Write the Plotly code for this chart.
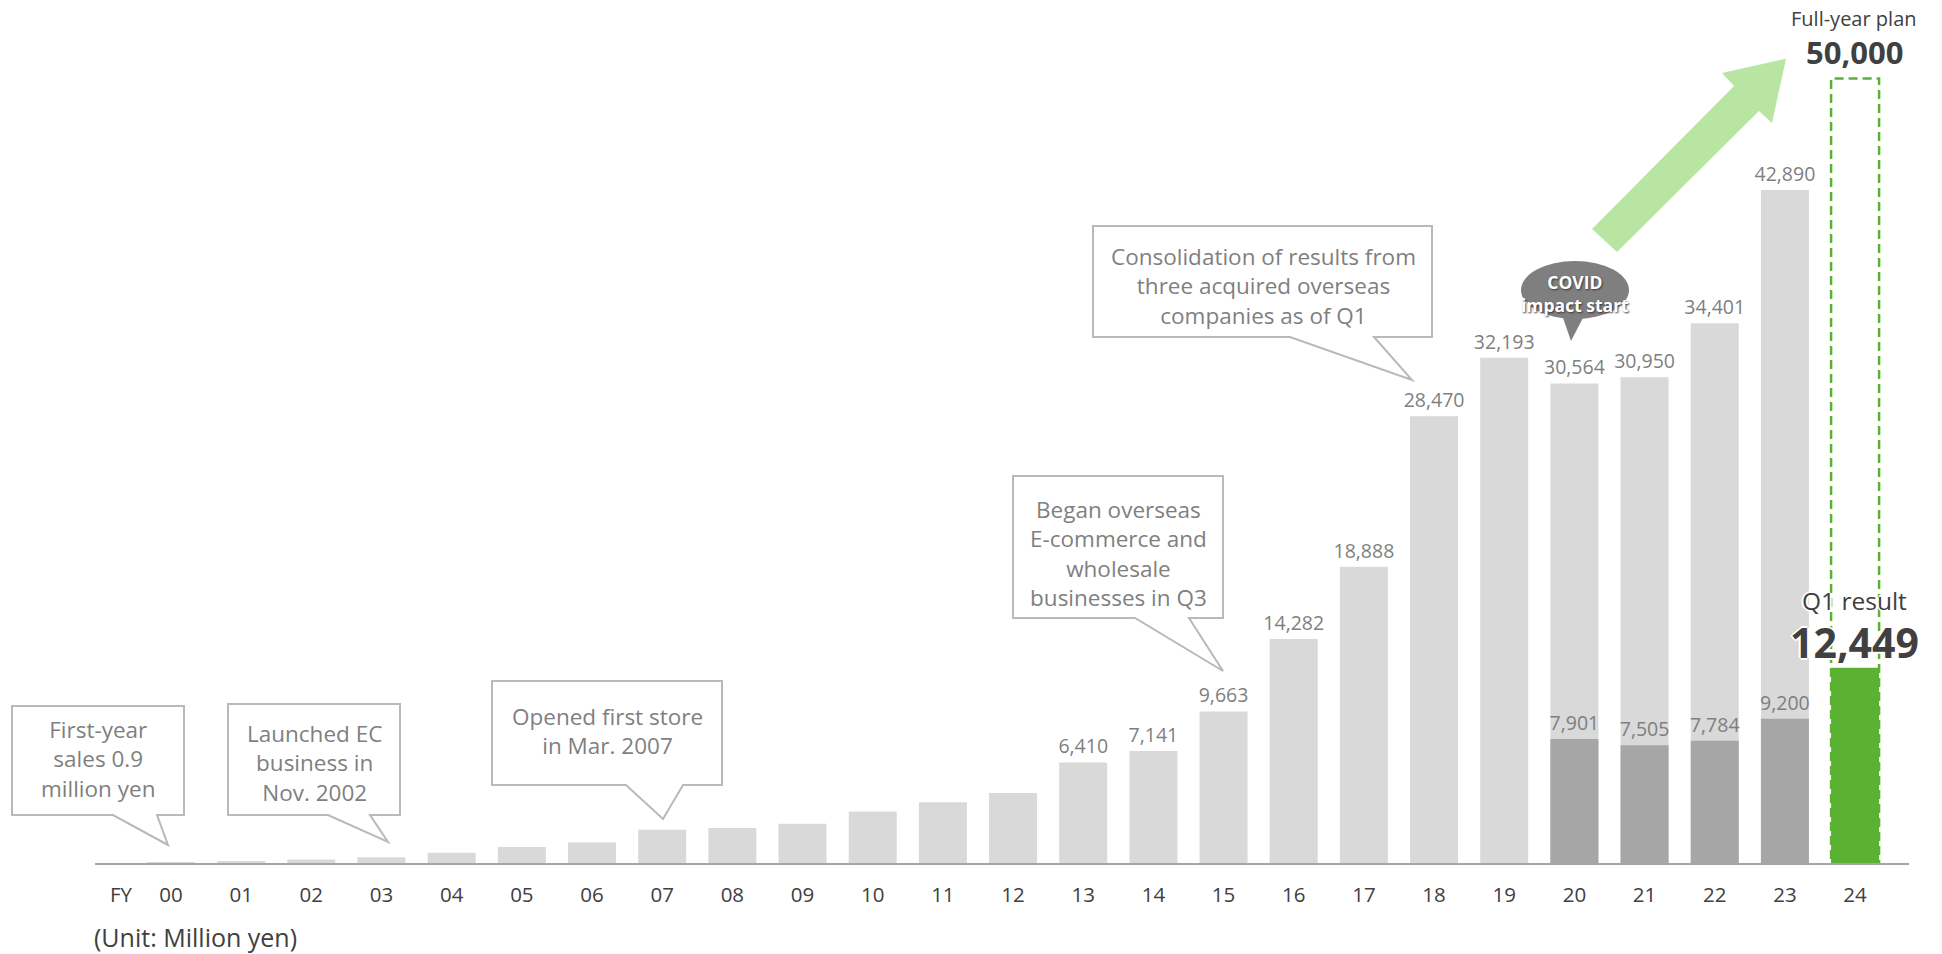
import plotly.graph_objects as go

# ---- data (million yen) ----
fiscal_years = ["00", "01", "02", "03", "04", "05", "06", "07", "08", "09", "10", "11",
                "12", "13", "14", "15", "16", "17", "18", "19", "20", "21", "22", "23"]
annual_sales = [0.9, 110, 220, 360, 660, 1020, 1300, 2120, 2230, 2500, 3290, 3870,
                4460, 6410, 7141, 9663, 14282, 18888, 28470, 32193, 30564, 30950, 34401, 42890]
labelled_from = "13"          # annual values are printed from FY13 onward

q1_years = ["20", "21", "22", "23"]
q1_sales = [7901, 7505, 7784, 9200]

current_year = "24"
current_q1 = 12449
current_plan = 50000

# ---- figure geometry (pixels) ----
W, H = 1942, 954
ML, MR, MT, MB = 95, 33, 20, 91
PW, PH = W - ML - MR, H - MT - MB
BASE = H - MB                      # pixel row of the zero line
STEP = 70.17                       # pixels between category centres
FIRST = 171                        # pixel centre of the first category
PX_PER_UNIT = 0.015691             # pixels per million yen
BAR_W = 48 / STEP

FONT = "Open Sans"
GREY_TXT = "#7f7f7f"
DARK_TXT = "#404040"
BOX_LINE = "#b9b9b9"

all_years = fiscal_years + [current_year]
xpos = {y: i for i, y in enumerate(all_years)}


def paper(px, py):
    return (px - ML) / PW, (BASE - py) / PH


def path(points, close=True):
    pts = [paper(x, y) for x, y in points]
    s = "M " + " L ".join(f"{x:.5f},{y:.5f}" for x, y in pts)
    return s + (" Z" if close else "")


fig = go.Figure()

label_font = dict(family=FONT, size=19.5, color=GREY_TXT)

# annual sales (light grey)
start = fiscal_years.index(labelled_from)
fig.add_trace(go.Bar(
    x=[xpos[y] for y in fiscal_years], y=annual_sales, width=BAR_W,
    marker=dict(color="#d9d9d9", line=dict(width=0)),
    text=["" if i < start else f"{v:,}" for i, v in enumerate(annual_sales)],
    textposition="outside", cliponaxis=False, constraintext="none",
    textfont=label_font, outsidetextfont=label_font,
    hoverinfo="x+y", showlegend=False,
))

# Q1 portion (darker grey)
fig.add_trace(go.Bar(
    x=[xpos[y] for y in q1_years], y=q1_sales, width=BAR_W,
    marker=dict(color="#a6a6a6", line=dict(width=0)),
    text=[f"{v:,}" for v in q1_sales],
    textposition="outside", cliponaxis=False, constraintext="none",
    textfont=label_font, outsidetextfont=label_font,
    showlegend=False,
))

# current-year Q1 result (green)
fig.add_trace(go.Bar(
    x=[xpos[current_year]], y=[current_q1], width=BAR_W,
    marker=dict(color="#5bb133", line=dict(width=0)),
    showlegend=False,
))

shapes = []

# full-year plan outline
cx = xpos[current_year]
shapes.append(dict(
    type="rect", xref="x", yref="y", layer="below",
    x0=cx - BAR_W / 2, x1=cx + BAR_W / 2, y0=0, y1=current_plan,
    line=dict(color="#5bb133", width=2.5, dash="9px,5px"),
    fillcolor="rgba(0,0,0,0)",
))

# growth arrow
arrow_pts = [(1592, 229), (1734, 86), (1722, 73), (1786, 58.7), (1772, 123),
             (1759, 111), (1617, 252)]
shapes.append(dict(type="path", xref="paper", yref="paper", path=path(arrow_pts),
                   fillcolor="#b8e6a2", line=dict(width=0)))


# speech-bubble callouts: (left, top, right, bottom, tail-left, tail-right, tip)
def callout(l, t, r, b, tl, tr, tip):
    pts = [(l, t), (r, t), (r, b), (tr, b), tip, (tl, b), (l, b)]
    shapes.append(dict(type="path", xref="paper", yref="paper", path=path(pts),
                       fillcolor="white", line=dict(color=BOX_LINE, width=2)))


callout(12, 706, 184, 815, 113, 157, (168, 845))
callout(228, 704, 400, 815, 328, 370, (388, 842))
callout(492, 681, 722, 785, 626, 683, (663, 819))
callout(1013, 476, 1223, 618, 1135, 1189, (1223, 671))
callout(1093, 226, 1432, 337, 1290, 1374, (1412, 380))

# COVID bubble
ex0, ey0 = paper(1521, 261)
ex1, ey1 = paper(1629, 319)
shapes.append(dict(type="circle", xref="paper", yref="paper",
                   x0=ex0, x1=ex1, y0=ey1, y1=ey0,
                   fillcolor="#7f7f7f", line=dict(width=0)))
shapes.append(dict(type="path", xref="paper", yref="paper",
                   path=path([(1561, 312), (1586, 312), (1571, 341)]),
                   fillcolor="#7f7f7f", line=dict(width=0)))

annotations = []


def note(px, py, text, size, color=GREY_TXT, weight="normal", xanchor="center", shadow=None):
    x, y = paper(px, py)
    f = dict(family=FONT, size=size, color=color, weight=weight)
    if shadow:
        f["shadow"] = shadow
    annotations.append(dict(x=x, y=y, xref="paper", yref="paper", text=text,
                            showarrow=False, xanchor=xanchor, yanchor="middle",
                            align="center", font=f))


note(98, 759, "First-year<br>sales 0.9<br>million yen", 22.5)
note(314, 763, "Launched EC<br>business in<br>Nov. 2002", 22.5)
note(607, 731, "Opened first store<br>in Mar. 2007", 22.5)
note(1118, 553, "Began overseas<br>E-commerce and<br>wholesale<br>businesses in Q3", 22.5)
note(1263, 286, "Consolidation of results from<br>three acquired overseas<br>companies as of Q1", 22.5)
note(1575, 294, "COVID<br>impact start", 17.5, color="white", weight="bold",
     shadow="1px 1px 2px #3a3a3a")

halo = "2px 0 0 #fff, -2px 0 0 #fff, 0 2px 0 #fff, 0 -2px 0 #fff"
note(1854, 19, "Full-year plan", 20, color=DARK_TXT)
note(1854, 52, f"{current_plan:,}", 31, color=DARK_TXT, weight="bold")
note(1854, 600, "Q1 result", 24.5, color=DARK_TXT, shadow=halo)
note(1854, 642, f"{current_q1:,}", 41, color=DARK_TXT, weight="bold", shadow=halo)

note(121, 894, "FY", 20.5, color=DARK_TXT)
note(92, 937, "(Unit: Million yen)", 25, color=DARK_TXT, xanchor="left")

x_lo = (ML - FIRST) / STEP
x_hi = (ML + PW - FIRST) / STEP
y_hi = PH / PX_PER_UNIT

fig.update_layout(
    width=W, height=H,
    margin=dict(l=ML, r=MR, t=MT, b=MB, pad=0),
    paper_bgcolor="white", plot_bgcolor="white",
    barmode="overlay",
    shapes=shapes, annotations=annotations,
    xaxis=dict(range=[x_lo, x_hi], tickvals=list(range(len(all_years))), ticktext=all_years,
               showline=True, linecolor="#a6a6a6", linewidth=2, showgrid=False,
               zeroline=False, ticks="", ticklabelstandoff=12,
               tickfont=dict(family=FONT, size=20.5, color=DARK_TXT)),
    yaxis=dict(range=[0, y_hi], visible=False, showgrid=False, zeroline=False),
    font=dict(family=FONT),
)

fig.write_html("out.html")
